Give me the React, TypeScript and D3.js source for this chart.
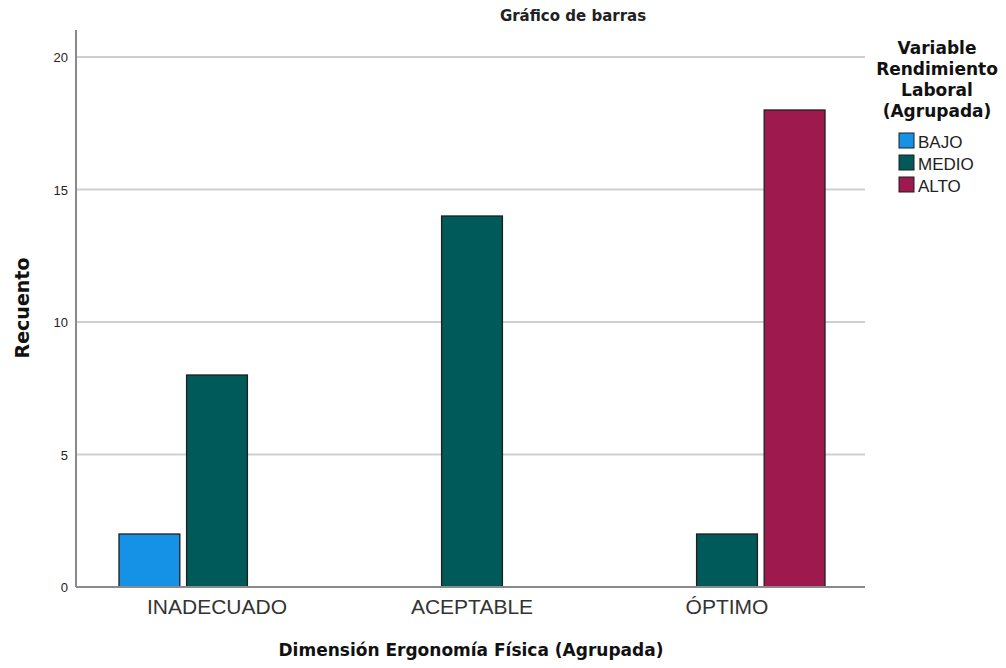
import * as d3 from "d3";

const categories = ["INADECUADO", "ACEPTABLE", "ÓPTIMO"];
const series = ["BAJO", "MEDIO", "ALTO"];
const bajo = [2, 0, 0];
const medio = [8, 14, 2];
const alto = [0, 0, 18];
const yTicks = [0, 5, 10, 15, 20];
const colors = ["#1592e6", "#005a5a", "#9e1a4e"];

export default function App() {
  const width = 1006;
  const height = 668;
  const plot = { left: 76, right: 865, top: 30, bottom: 587 };
  const font = "'Liberation Sans', Arial, sans-serif";
  const bold = "'DejaVu Sans', Verdana, sans-serif";

  const y = d3.scaleLinear().domain([0, 21]).range([plot.bottom, plot.bottom - 21 * 26.5]);
  const x0 = d3.scaleBand<string>().domain(categories).range([89.5, 854.5]);
  const x1 = d3
    .scaleBand<string>()
    .domain(series)
    .range([29.5, x0.bandwidth() - 29.5])
    .paddingInner(0.1);

  const values = [bajo, medio, alto];
  const legendTitle = ["Variable", "Rendimiento", "Laboral", "(Agrupada)"];

  return (
    <svg
      width={width}
      height={height}
      style={{ position: "absolute", left: 0, top: 0, background: "#fff" }}
      fontFamily={font}
    >
      <text x={573} y={21} textAnchor="middle" fontSize={15} fontWeight="bold" fill="#222" fontFamily={bold}>
        Gráfico de barras
      </text>

      {/* grid lines */}
      {yTicks
        .filter((t) => t > 0)
        .map((t) => (
          <line
            key={t}
            x1={plot.left}
            x2={plot.right}
            y1={y(t)}
            y2={y(t)}
            stroke="#cfcfcf"
            strokeWidth={2}
          />
        ))}

      {/* bars */}
      {categories.map((c, i) =>
        series.map((s, j) => {
          const v = values[j][i];
          if (!v) return null;
          return (
            <rect
              key={c + s}
              x={(x0(c) ?? 0) + (x1(s) ?? 0)}
              y={y(v)}
              width={x1.bandwidth()}
              height={y(0) - y(v)}
              fill={colors[j]}
              stroke="#1e1e1e"
              strokeWidth={1.3}
            />
          );
        })
      )}

      {/* axes */}
      <line x1={plot.left} x2={plot.left} y1={plot.top} y2={plot.bottom} stroke="#8a8a8a" strokeWidth={2} />
      <line x1={plot.left} x2={plot.right} y1={plot.bottom} y2={plot.bottom} stroke="#8a8a8a" strokeWidth={2} />

      {yTicks.map((t) => (
        <text key={t} x={68} y={y(t) + 5} textAnchor="end" fontSize={13} fill="#222">
          {t}
        </text>
      ))}

      {categories.map((c) => (
        <text
          key={c}
          x={(x0(c) ?? 0) + x0.bandwidth() / 2}
          y={614}
          textAnchor="middle"
          fontSize={21}
          fill="#333"
        >
          {c}
        </text>
      ))}

      <text
        transform="translate(29, 308) rotate(-90)"
        textAnchor="middle"
        fontSize={19}
        fontWeight="bold"
        fill="#111"
        fontFamily={bold}
      >
        Recuento
      </text>
      <text x={471} y={656} textAnchor="middle" fontSize={17} fontWeight="bold" fill="#111" fontFamily={bold}>
        Dimensión Ergonomía Física (Agrupada)
      </text>

      {/* legend */}
      {legendTitle.map((l, i) => (
        <text
          key={l}
          x={937}
          y={54 + i * 21}
          textAnchor="middle"
          fontSize={17}
          fontWeight="bold"
          fill="#111"
          fontFamily={bold}
        >
          {l}
        </text>
      ))}
      {series.map((s, j) => (
        <g key={s} transform={`translate(899, ${133 + j * 22})`}>
          <rect width={15} height={15} fill={colors[j]} stroke="#1e1e1e" strokeWidth={1} />
          <text x={19} y={15} fontSize={17} fill="#222">
            {s}
          </text>
        </g>
      ))}
    </svg>
  );
}
